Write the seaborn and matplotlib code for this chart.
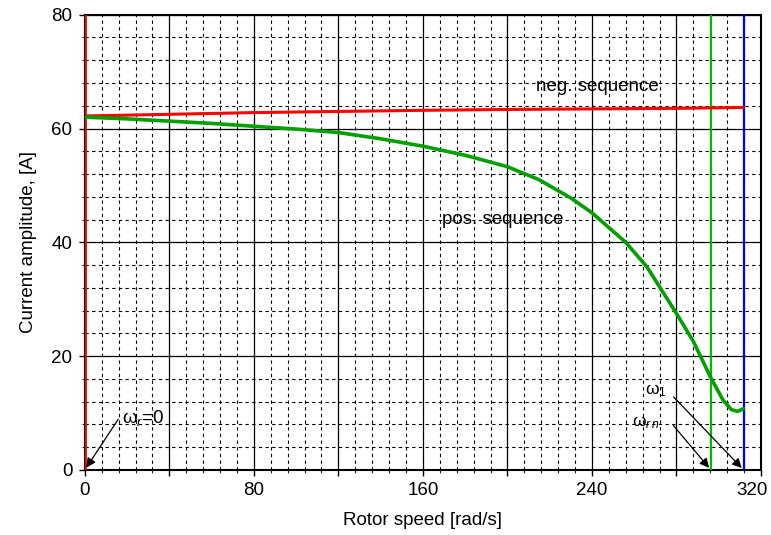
import numpy as np
import pandas as pd
import matplotlib
matplotlib.use("Agg")
import matplotlib.pyplot as plt
import matplotlib.transforms as mtransforms
from matplotlib.ticker import MultipleLocator, FuncFormatter
import seaborn as sns

# ---- data ----
speed_neg = [0, 40, 80, 120, 160, 200, 240, 280, 311.8]
amp_neg = [62.2, 62.5, 62.8, 63.0, 63.2, 63.35, 63.45, 63.55, 63.7]

speed_pos = [0, 20, 40, 60, 80, 100, 120, 140, 160, 180, 200, 215, 230, 240,
             256, 266, 280, 288, 296, 302, 306, 309, 311.8]
amp_pos = [62.0, 61.7, 61.3, 60.9, 60.4, 59.9, 59.3, 58.2, 56.9, 55.3, 53.3,
           51.0, 47.8, 45.2, 40.0, 35.7, 27.5, 22.6, 16.4, 12.3, 10.6, 10.3, 10.8]

w_rn = 296.3
w_1 = 311.8

x_ticks = [0, 80, 160, 240, 320]
y_ticks = [0, 20, 40, 60, 80]

sns.set_style("white")
plt.rcParams['font.family'] = ['Liberation Sans', 'DejaVu Sans']
plt.rcParams['mathtext.fontset'] = 'custom'
plt.rcParams['mathtext.rm'] = 'Liberation Sans'
plt.rcParams['mathtext.it'] = 'Liberation Sans:italic'
plt.rcParams['text.color'] = 'black'
plt.rcParams['axes.labelcolor'] = 'black'

FS = 13.5

fig = plt.figure(figsize=(7.71, 5.35), dpi=100)
ax = fig.add_axes([0.110, 0.1215, 0.877, 0.851])

df_neg = pd.DataFrame({"speed": speed_neg, "amp": amp_neg})
df_pos = pd.DataFrame({"speed": speed_pos, "amp": amp_pos})

ax.set_xlim(0, 320)
ax.set_ylim(0, 80)

ax.xaxis.set_major_locator(MultipleLocator(40))
ax.xaxis.set_minor_locator(MultipleLocator(8))
ax.yaxis.set_major_locator(MultipleLocator(20))
ax.yaxis.set_minor_locator(MultipleLocator(4))
ax.xaxis.set_major_formatter(FuncFormatter(lambda v, p: f"{int(round(v))}" if int(round(v)) in x_ticks else ""))
ax.yaxis.set_major_formatter(FuncFormatter(lambda v, p: f"{int(round(v))}" if int(round(v)) in y_ticks else ""))

ax.grid(which="minor", color="black", linestyle=(0, (3, 3)), linewidth=0.8)
ax.grid(which="major", color="black", linestyle="-", linewidth=0.9)
ax.set_axisbelow(True)

ax.axvline(0, color="#ff0000", linewidth=2, zorder=3)
ax.axvline(w_rn, color="#00bb00", linewidth=1.6, zorder=3)
ax.axvline(w_1, color="#0000ff", linewidth=1.6, zorder=3)

sns.lineplot(data=df_neg, x="speed", y="amp", ax=ax, color="#ff0000", linewidth=2.2, zorder=4)
sns.lineplot(data=df_pos, x="speed", y="amp", ax=ax, color="#00a000", linewidth=2.6, zorder=4)

for s in ax.spines.values():
    s.set_color("black")
    s.set_linewidth(1.5)
    s.set_visible(True)

ax.tick_params(axis="both", which="major", direction="out", length=4, width=1,
               labelsize=FS, colors="black", bottom=True, left=True, pad=5)
ax.tick_params(axis="both", which="minor", direction="out", length=2, width=0.8,
               bottom=True, left=True)

ax.set_xlabel("Rotor speed [rad/s]", fontsize=FS, labelpad=9, color="black")
ax.set_ylabel("Current amplitude, [A]", fontsize=FS, labelpad=10, color="black")

ax.text(242.4, 67.3, "neg. sequence", fontsize=FS, ha="center", va="center", zorder=5)
ax.text(198, 44.1, "pos. sequence", fontsize=FS, ha="center", va="center", zorder=5)

arrow = dict(arrowstyle="-|>", color="black", linewidth=0.9, mutation_scale=14)
ax.annotate("", xy=(0, 0), xytext=(16.5, 9.3), arrowprops=arrow, zorder=6)
ax.text(17.5, 9.1, "ω$_r$=0", fontsize=FS, ha="left", va="center", zorder=6)

ax.annotate("", xy=(w_1, 0), xytext=(277.7, 13.2), arrowprops=arrow, zorder=6)
ax.annotate("", xy=(w_rn, 0), xytext=(277.7, 8.2), arrowprops=arrow, zorder=6)
ax.text(270.5, 14.0, "ω$_1$", fontsize=12.5, ha="center", va="center", zorder=6)
ax.text(265.5, 8.3, "ω$_{r\\,n}$", fontsize=12.5, ha="center", va="center", zorder=6)

# keep the last x tick label inside the figure
fig.canvas.draw()
for lab in ax.get_xticklabels():
    if lab.get_text() == "320":
        lab.set_transform(lab.get_transform() +
                          mtransforms.ScaledTranslation(-9 / 100, 0, fig.dpi_scale_trans))

fig.savefig("out.png", dpi=100)
